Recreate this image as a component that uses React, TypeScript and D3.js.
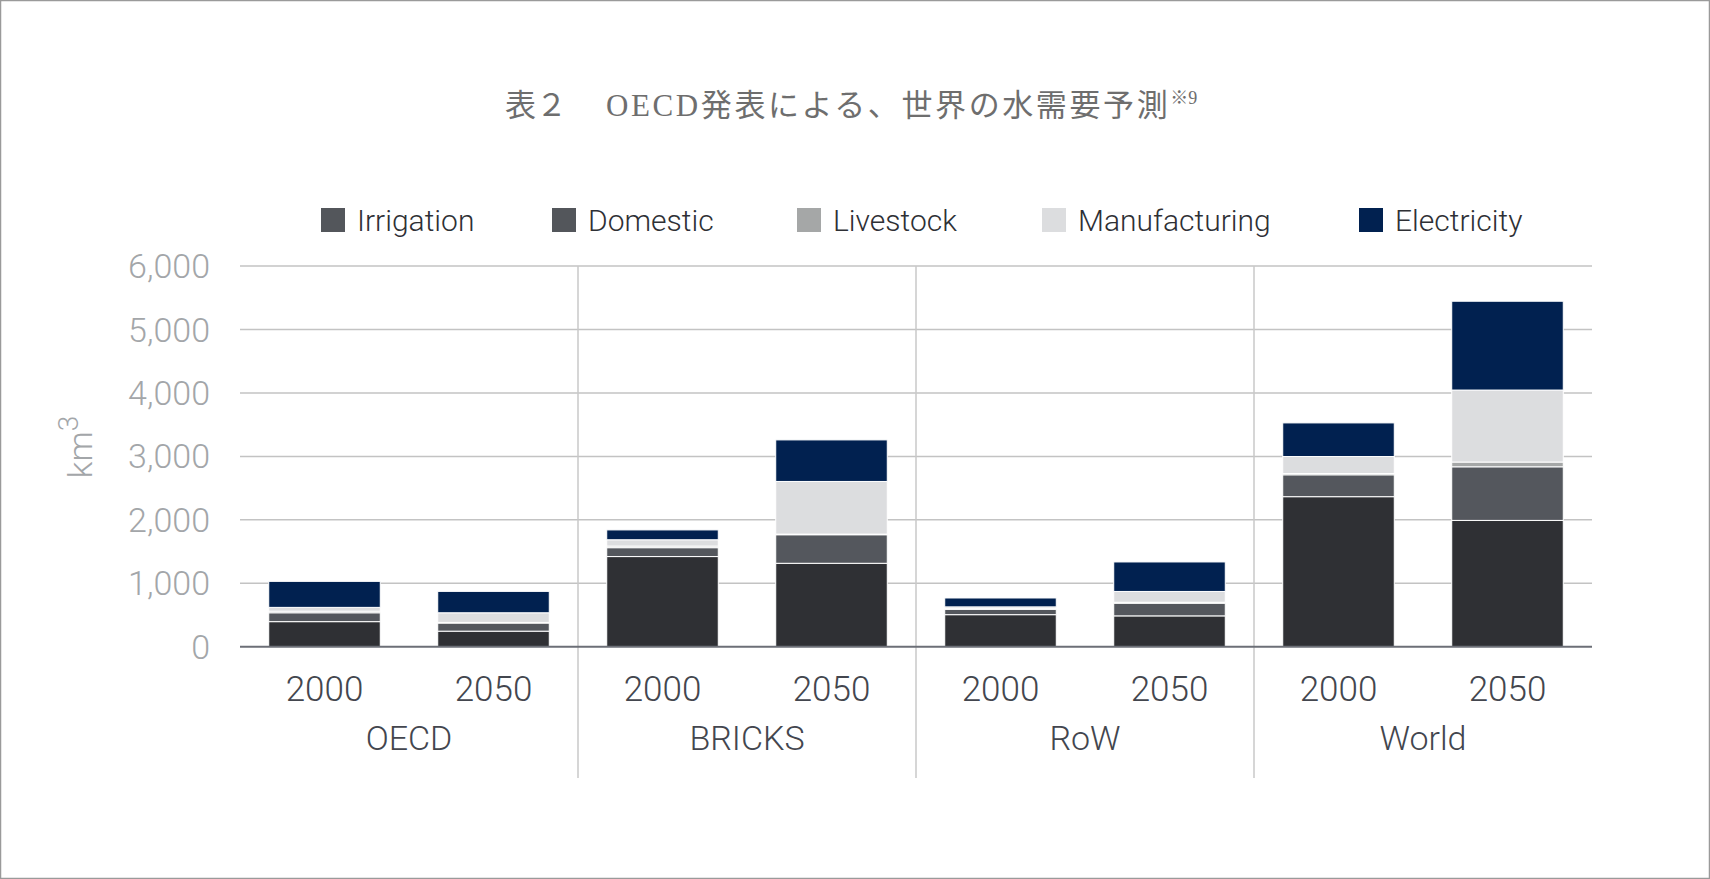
import React from "react";
import * as d3 from "d3";

const categories = ["OECD", "BRICKS", "RoW", "World"];
const years = ["2000", "2050"];
const seriesNames = ["Irrigation", "Domestic", "Livestock", "Manufacturing", "Electricity"];
// values per bar: OECD-2000, OECD-2050, BRICKS-2000, BRICKS-2050, RoW-2000, RoW-2050, World-2000, World-2050
const irrigation = [395, 245, 1421, 1315, 505, 486, 2365, 1991];
const domestic = [140, 128, 140, 450, 85, 200, 345, 845];
const livestock = [25, 10, 25, 10, 10, 15, 20, 75];
const manufacturing = [60, 152, 100, 830, 28, 170, 268, 1135];
const electricity = [410, 337, 155, 655, 140, 465, 530, 1400];
const yTicks = [0, 1000, 2000, 3000, 4000, 5000, 6000];

const legendColors = ["#53565b", "#53565b", "#a5a7a7", "#dcdddf", "#012150"];
const barColors = ["#2f3034", "#54575d", "#a5a7a7", "#dcdddf", "#012150"];

const W = 1710;
const H = 879;

export default function App() {
  const bars = categories.flatMap((c) => years.map((y) => `${c}-${y}`));
  const rows = bars.map((key, i) => ({
    key,
    Irrigation: irrigation[i],
    Domestic: domestic[i],
    Livestock: livestock[i],
    Manufacturing: manufacturing[i],
    Electricity: electricity[i],
  }));
  const stacked = d3.stack<any>().keys(seriesNames)(rows);

  const x0 = 240;
  const x1 = 1592;
  const x = d3.scaleBand<string>().domain(bars).range([x0, x1]).paddingInner(0.34).paddingOuter(0.17);
  const catX = d3.scaleBand<string>().domain(categories).range([x0, x1]);
  const y = d3.scaleLinear().domain([0, 6000]).range([646.7, 266.1]);
  const fmt = d3.format(",");

  const legendX = [321, 552, 797, 1042, 1359];

  return (
    <div style={{ position: "absolute", left: 0, top: 0, width: W, height: H }}>
      <svg width={W} height={H} style={{ display: "block", background: "#fff" }}>
        <rect x={0.5} y={0.5} width={W - 1} height={H - 1} fill="#fff" stroke="#9a9a9a" strokeWidth={1.5} />

        {/* title */}
        <text
          y={116}
          fill="#6e6e6e"
          fontFamily="'Liberation Serif', 'DejaVu Serif', 'Noto Sans CJK JP', serif"
          fontSize={31}
        >
          <tspan x={505} letterSpacing={0}>表２</tspan>
          <tspan x={606} letterSpacing={2.6}>OECD発表による、世界の水需要予測</tspan>
          <tspan fontSize={18} dy={-12}>※9</tspan>
        </text>

        {/* legend */}
        {seriesNames.map((s, i) => (
          <g key={s}>
            <rect x={legendX[i]} y={208} width={24} height={24} fill={legendColors[i]} />
            <text
              x={legendX[i] + 36}
              y={231}
              fontFamily="Roboto, 'Noto Sans', sans-serif"
              fontSize={30}
              fontWeight={300}
              fill="#2e3035"
            >
              {s}
            </text>
          </g>
        ))}

        {/* gridlines */}
        {yTicks.map((t) => (
          <g key={t}>
            {t !== 0 && (
              <line x1={x0} x2={x1} y1={y(t)} y2={y(t)} stroke="#c3c3c3" strokeWidth={1.5} />
            )}
            <text
              x={210}
              y={y(t) + 12}
              textAnchor="end"
              fontFamily="Roboto, sans-serif"
              fontWeight={300}
              fontSize={34}
              fill="#a3a6a9"
            >
              {fmt(t)}
            </text>
          </g>
        ))}

        {/* category separators */}
        {categories.slice(1).map((c) => (
          <line
            key={c}
            x1={catX(c)!}
            x2={catX(c)!}
            y1={y(6000)}
            y2={778}
            stroke="#c8c8c8"
            strokeWidth={1.5}
          />
        ))}

        {/* bars */}
        {stacked.map((layer, si) => (
          <g key={layer.key} fill={barColors[si]}>
            {layer.map((d, i) => (
              <rect
                key={i}
                x={x(bars[i])!}
                width={x.bandwidth()}
                y={y(d[1])}
                height={Math.max(0, y(d[0]) - y(d[1]))}
                stroke="#fff"
                strokeWidth={1}
              />
            ))}
          </g>
        ))}

        {/* baseline */}
        <line x1={x0} x2={x1} y1={y(0)} y2={y(0)} stroke="#6c6f77" strokeWidth={2} />

        {/* y axis title */}
        <text
          transform={`translate(92,447) rotate(-90)`}
          textAnchor="middle"
          fontFamily="Roboto, sans-serif"
          fontWeight={300}
          fontSize={34}
          fill="#a3a6a9"
        >
          km<tspan fontSize={28} dy={-14}>3</tspan>
        </text>

        {/* year labels */}
        {bars.map((b, i) => (
          <text
            key={b}
            x={x(b)! + x.bandwidth() / 2}
            y={701}
            textAnchor="middle"
            fontFamily="Roboto, sans-serif"
            fontWeight={300}
            fontSize={35}
            fill="#43464e"
          >
            {years[i % 2]}
          </text>
        ))}

        {/* category labels */}
        {categories.map((c) => (
          <text
            key={c}
            x={catX(c)! + catX.bandwidth() / 2}
            y={750}
            textAnchor="middle"
            fontFamily="Roboto, sans-serif"
            fontWeight={300}
            fontSize={34}
            fill="#43464e"
          >
            {c}
          </text>
        ))}
      </svg>
    </div>
  );
}
